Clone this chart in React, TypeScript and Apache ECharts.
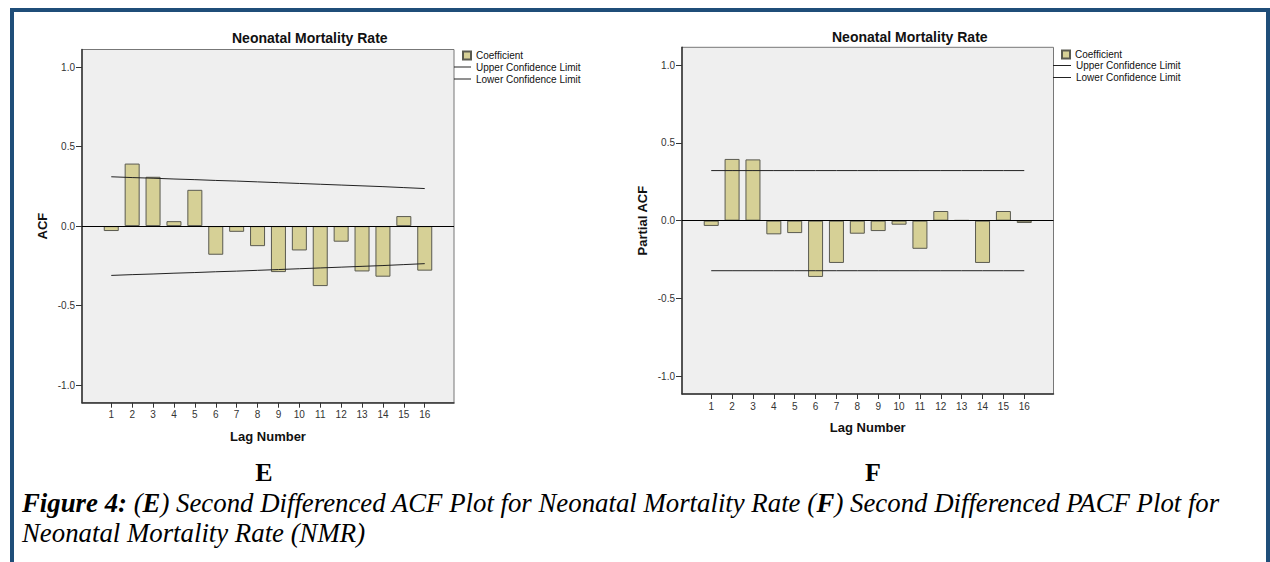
import React, { useEffect, useRef } from 'react';
import * as echarts from 'echarts';

const lags = [1, 2, 3, 4, 5, 6, 7, 8, 9, 10, 11, 12, 13, 14, 15, 16];

const acfCoefficients = [-0.031, 0.393, 0.31, 0.031, 0.228, -0.18, -0.036, -0.126, -0.289, -0.153, -0.377, -0.098, -0.285, -0.318, 0.063, -0.28];
const acfUpperLimit = [0.31, 0.305, 0.301, 0.296, 0.292, 0.287, 0.283, 0.278, 0.273, 0.268, 0.263, 0.258, 0.253, 0.248, 0.242, 0.236];
const acfLowerLimit = [-0.31, -0.305, -0.301, -0.296, -0.292, -0.287, -0.283, -0.278, -0.273, -0.268, -0.263, -0.258, -0.253, -0.248, -0.242, -0.236];

const pacfCoefficients = [-0.034, 0.397, 0.394, -0.088, -0.08, -0.362, -0.272, -0.084, -0.067, -0.026, -0.181, 0.062, 0.003, -0.272, 0.062, -0.015];
const pacfUpperLimit = [0.322, 0.322, 0.322, 0.322, 0.322, 0.322, 0.322, 0.322, 0.322, 0.322, 0.322, 0.322, 0.322, 0.322, 0.322, 0.322];
const pacfLowerLimit = [-0.322, -0.322, -0.322, -0.322, -0.322, -0.322, -0.322, -0.322, -0.322, -0.322, -0.322, -0.322, -0.322, -0.322, -0.322, -0.322];

const yTicks = [-1, -0.5, 0, 0.5, 1];
const chartTitle = 'Neonatal Mortality Rate';
const yNames = ['ACF', 'Partial ACF'];
const xName = 'Lag Number';
const legendBar = 'Coefficient';
const legendUpper = 'Upper Confidence Limit';
const legendLower = 'Lower Confidence Limit';

const captionLine1 = '{bi|Figure 4:} {i|(}{bi|E}{i|) Second Differenced ACF Plot for Neonatal Mortality Rate (}{bi|F}{i|) Second Differenced PACF Plot for}';
const captionLine2 = 'Neonatal Mortality Rate (NMR)';

const SANS = "'Liberation Sans', Arial, sans-serif";
const SERIF = "'Liberation Serif', 'Times New Roman', serif";

function pairs(values: number[]) {
  return lags.map((l, i) => [l, values[i]]);
}

export default function App() {
  const ref = useRef<HTMLDivElement>(null);

  useEffect(() => {
    if (!ref.current) return;
    const chart = echarts.init(ref.current, undefined, { renderer: 'svg' });

    const grids = [
      { left: 82, top: 49.5, width: 372, height: 353.2 },
      { left: 682, top: 47.3, width: 371.5, height: 346.7 },
    ];
    const yLimits = [1.11, 1.115];
    const coeffs = [acfCoefficients, pacfCoefficients];
    const uppers = [acfUpperLimit, pacfUpperLimit];
    const lowers = [acfLowerLimit, pacfLowerLimit];

    const xAxes = grids.map((_, i) => ({
      type: 'value',
      gridIndex: i,
      min: -0.4,
      max: 17.4,
      splitLine: { show: false },
      axisLine: { show: true, onZero: false, lineStyle: { color: '#333', width: 1.5 } },
      axisTick: { show: true, customValues: lags, length: 5, lineStyle: { color: '#333', width: 1 } },
      axisLabel: { customValues: lags, margin: 7, fontSize: 10, color: '#333', fontFamily: SANS },
      name: xName,
      nameLocation: 'middle',
      nameGap: 27,
      nameTextStyle: { fontWeight: 'bold', fontSize: 13, color: '#111', fontFamily: SANS },
    }));

    const yAxes = grids.map((_, i) => ({
      type: 'value',
      gridIndex: i,
      min: -yLimits[i],
      max: yLimits[i],
      splitLine: { show: false },
      axisLine: { show: true, onZero: false, lineStyle: { color: '#333', width: 1.5 } },
      axisTick: { show: true, customValues: yTicks, length: 6, lineStyle: { color: '#333', width: 1 } },
      axisLabel: {
        customValues: yTicks,
        margin: 7,
        fontSize: 10,
        color: '#333',
        fontFamily: SANS,
        formatter: (v: number) => v.toFixed(1),
      },
      name: yNames[i],
      nameLocation: 'middle',
      nameGap: 33,
      nameTextStyle: { fontWeight: 'bold', fontSize: 13, color: '#111', fontFamily: SANS },
    }));

    const series: any[] = [];
    grids.forEach((_, i) => {
      series.push({
        type: 'bar',
        name: legendBar,
        xAxisIndex: i,
        yAxisIndex: i,
        data: pairs(coeffs[i]),
        barWidth: 15,
        itemStyle: { color: '#d6d096', borderColor: '#5a5a50', borderWidth: 1 },
        markLine: {
          silent: true,
          symbol: ['none', 'none'],
          label: { show: false },
          lineStyle: { color: '#000', width: 1, type: 'solid' },
          data: [{ yAxis: 0 }],
        },
      });
      series.push({
        type: 'line',
        name: legendUpper,
        xAxisIndex: i,
        yAxisIndex: i,
        data: pairs(uppers[i]),
        symbol: 'none',
        color: '#222',
        itemStyle: { color: '#222' },
        lineStyle: { color: '#222', width: 1 },
      });
      series.push({
        type: 'line',
        name: legendLower,
        xAxisIndex: i,
        yAxisIndex: i,
        data: pairs(lowers[i]),
        symbol: 'none',
        color: '#222',
        itemStyle: { color: '#222' },
        lineStyle: { color: '#222', width: 1 },
      });
    });

    const legendText = { fontSize: 10, lineHeight: 10, color: '#111', fontFamily: SANS };
    const lineItems = [
      { name: legendUpper, icon: 'rect', itemStyle: { color: '#222', borderWidth: 0 } },
      { name: legendLower, icon: 'rect', itemStyle: { color: '#222', borderWidth: 0 } },
    ];
    const legends = [
      { left: 462, top: 50.5, itemWidth: 8, itemHeight: 8, data: [{ name: legendBar, icon: 'rect' }] },
      { left: 454, top: 62, itemWidth: 17, itemHeight: 1, data: lineItems },
      { left: 1061, top: 49.5, itemWidth: 8, itemHeight: 8, data: [{ name: legendBar, icon: 'rect' }] },
      { left: 1053, top: 60.5, itemWidth: 18, itemHeight: 1, data: lineItems },
    ].map((l) => ({
      ...l,
      orient: 'vertical',
      padding: 0,
      itemGap: 2,
      selectedMode: false,
      textStyle: legendText,
    }));

    const titleStyle = { fontSize: 14, fontWeight: 'bold', color: '#111', fontFamily: SANS };

    const capSize = 26.8;
    const capStyle = { fontStyle: 'italic', fontSize: capSize, fontFamily: SERIF, fill: '#000' };

    chart.setOption({
      animation: false,
      backgroundColor: '#fff',
      title: [
        { text: chartTitle, left: 232, top: 31, padding: 0, textStyle: titleStyle },
        { text: chartTitle, left: 832, top: 30, padding: 0, textStyle: titleStyle },
      ],
      legend: legends,
      grid: grids.map((g) => ({
        ...g,
        show: true,
        backgroundColor: '#efefef',
        borderColor: '#777',
        borderWidth: 1,
        containLabel: false,
      })),
      xAxis: xAxes,
      yAxis: yAxes,
      series,
      graphic: [
        {
          type: 'rect',
          shape: { x: 12, y: 10, width: 1256, height: 600 },
          style: { fill: 'none', stroke: '#1f4e79', lineWidth: 4 },
          silent: true,
        },
        {
          type: 'text',
          x: 264,
          y: 472,
          style: {
            text: 'E',
            font: `bold 26px ${SERIF}`,
            fill: '#000',
            align: 'center',
            verticalAlign: 'middle',
          },
        },
        {
          type: 'text',
          x: 873,
          y: 472,
          style: {
            text: 'F',
            font: `bold 26px ${SERIF}`,
            fill: '#000',
            align: 'center',
            verticalAlign: 'middle',
          },
        },
        {
          type: 'text',
          x: 22,
          y: 503,
          style: {
            text: captionLine1,
            align: 'left',
            verticalAlign: 'middle',
            fill: '#000',
            font: `italic ${capSize}px ${SERIF}`,
            rich: {
              bi: { ...capStyle, fontWeight: 'bold' },
              i: { ...capStyle, fontWeight: 'normal' },
            },
          },
        },
        {
          type: 'text',
          x: 22,
          y: 533,
          style: {
            text: captionLine2,
            align: 'left',
            verticalAlign: 'middle',
            fill: '#000',
            font: `italic ${capSize}px ${SERIF}`,
          },
        },
      ],
    });

    return () => chart.dispose();
  }, []);

  return (
    <div
      ref={ref}
      style={{ position: 'fixed', left: 0, top: 0, width: 1270, height: 562, background: '#fff' }}
    />
  );
}
